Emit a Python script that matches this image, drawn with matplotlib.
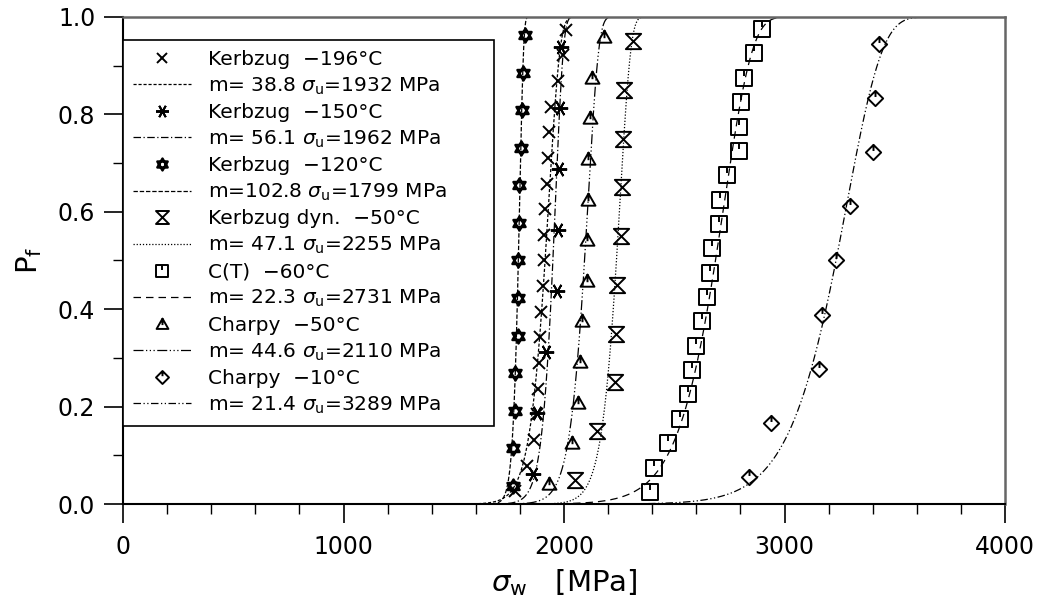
import matplotlib
matplotlib.use("Agg")
import matplotlib.pyplot as plt
import numpy as np
from matplotlib.lines import Line2D
from matplotlib.path import Path
from matplotlib.ticker import MultipleLocator, FormatStrFormatter

plt.rcParams["font.family"] = ["DejaVu Sans"]
plt.rcParams["mathtext.fontset"] = "dejavusans"

# fracture stresses [MPa] (sorted) and their failure probability ranks
kz196_sigma = [1778, 1831, 1865, 1876, 1883, 1887, 1891, 1896, 1903, 1908,
               1911, 1914, 1922, 1929, 1933, 1941, 1974, 1997, 2009]
kz196_pf = [0.026, 0.079, 0.132, 0.184, 0.237, 0.289, 0.342, 0.395, 0.447, 0.500,
            0.553, 0.605, 0.658, 0.711, 0.763, 0.816, 0.868, 0.921, 0.974]

kz150_sigma = [1858, 1876, 1917, 1967, 1974, 1979, 1982, 1985]
kz150_pf = [0.062, 0.188, 0.312, 0.438, 0.562, 0.688, 0.812, 0.938]

kz120_sigma = [1770, 1770, 1778, 1778, 1790, 1790, 1790, 1797, 1797, 1805,
               1808, 1815, 1823]
kz120_pf = [0.038, 0.115, 0.192, 0.269, 0.346, 0.423, 0.500, 0.577, 0.654, 0.731,
            0.808, 0.885, 0.962]

kzdyn_sigma = [2050, 2151, 2233, 2237, 2240, 2257, 2264, 2266, 2272, 2314]
kzdyn_pf = [0.05, 0.15, 0.25, 0.35, 0.45, 0.55, 0.65, 0.75, 0.85, 0.95]

ct_sigma = [2390, 2408, 2470, 2526, 2560, 2580, 2600, 2625, 2650, 2660,
            2673, 2704, 2707, 2738, 2791, 2795, 2803, 2814, 2862, 2897]
ct_pf = [0.025, 0.075, 0.125, 0.175, 0.225, 0.275, 0.325, 0.375, 0.425, 0.475,
         0.525, 0.575, 0.625, 0.675, 0.725, 0.775, 0.825, 0.875, 0.925, 0.975]

ch50_sigma = [1932, 2035, 2062, 2073, 2083, 2103, 2106, 2108, 2110, 2118,
              2125, 2181]
ch50_pf = [0.042, 0.125, 0.208, 0.292, 0.375, 0.458, 0.542, 0.625, 0.708, 0.792,
           0.875, 0.958]

ch10_sigma = [2840, 2939, 3156, 3171, 3232, 3297, 3400, 3410, 3426]
ch10_pf = [0.056, 0.167, 0.278, 0.389, 0.500, 0.611, 0.722, 0.833, 0.944]

# Weibull parameters of the fitted curves
weibull_m = [38.8, 56.1, 102.8, 47.1, 22.3, 44.6, 21.4]
weibull_su = [1932, 1962, 1799, 2255, 2731, 2110, 3289]

series_names = ["Kerbzug  \u2212196\u00b0C", "Kerbzug  \u2212150\u00b0C",
                "Kerbzug  \u2212120\u00b0C", "Kerbzug dyn.  \u221250\u00b0C",
                "C(T)  \u221260\u00b0C", "Charpy  \u221250\u00b0C",
                "Charpy  \u221210\u00b0C"]
fit_labels = ["m= 38.8", "m= 56.1", "m=102.8", "m= 47.1", "m= 22.3", "m= 44.6", "m= 21.4"]

M, L, C = Path.MOVETO, Path.LINETO, Path.CLOSEPOLY
square_tick = Path([(-1, -1), (1, -1), (1, 1), (-1, 1), (-1, -1), (0, 1), (0, 0.2)],
                   [M, L, L, L, C, M, L])
triangle_tick = Path([(-1, -0.75), (1, -0.75), (0, 1), (-1, -0.75), (0, 1), (0, -0.1)],
                     [M, L, L, C, M, L])
diamond_tick = Path([(0, -1), (1, 0), (0, 1), (-1, 0), (0, -1), (0, 1), (0, 0.2)],
                    [M, L, L, L, C, M, L])
hourglass = Path([(-1, 1), (1, 1), (-1, -1), (1, -1), (-1, 1)], [M, L, L, L, C])
hexagram = Path([(0, 1), (0.866, -0.5), (-0.866, -0.5), (0, 1),
                 (0, -1), (0.866, 0.5), (-0.866, 0.5), (0, -1)],
                [M, L, L, C, M, L, L, C])

markers = ["x", (6, 2, 90), hexagram, hourglass, square_tick, triangle_tick, diamond_tick]
msizes = [9, 11, 10, 11, 11, 10, 11]
mwidths = [1.4, 1.4, 1.8, 1.4, 1.4, 1.4, 1.4]
linestyles = [(0, (2.5, 1.5)), (0, (6, 2, 1, 2)), (0, (3.5, 1.5)), (0, (1, 1.5)),
              (0, (6, 4)), (0, (8, 2, 1, 2, 1, 2, 1, 2)), (0, (6, 2, 1, 2, 1, 2))]

sigmas = [kz196_sigma, kz150_sigma, kz120_sigma, kzdyn_sigma, ct_sigma, ch50_sigma, ch10_sigma]
pfs = [kz196_pf, kz150_pf, kz120_pf, kzdyn_pf, ct_pf, ch50_pf, ch10_pf]

fig = plt.figure(figsize=(10.47, 6.03), dpi=100)
ax = fig.add_axes([0.1175, 0.164, 0.8425, 0.808])

s = np.linspace(0, 4000, 4001)
handles, labels = [], []
for i in range(7):
    pf_fit = 1 - np.exp(-(s / weibull_su[i]) ** weibull_m[i])
    ax.plot(s, pf_fit, color="black", lw=0.9, linestyle=linestyles[i], zorder=2)
    ax.plot(sigmas[i], pfs[i], ls="none", marker=markers[i], ms=msizes[i],
            mec="black", mfc="none", mew=mwidths[i], zorder=3)
    handles.append(Line2D([], [], ls="none", marker=markers[i], ms=msizes[i] * 0.85,
                          mec="black", mfc="none", mew=mwidths[i]))
    labels.append(series_names[i])
    handles.append(Line2D([], [], color="black", lw=0.9, linestyle=linestyles[i]))
    labels.append(fit_labels[i] + r" $\sigma_\mathrm{u}$=" + f"{weibull_su[i]} MPa")

ax.set_xlim(0, 4000)
ax.set_ylim(0, 1)
ax.xaxis.set_major_locator(MultipleLocator(1000))
ax.xaxis.set_minor_locator(MultipleLocator(200))
ax.yaxis.set_major_locator(MultipleLocator(0.2))
ax.yaxis.set_minor_locator(MultipleLocator(0.1))
ax.yaxis.set_major_formatter(FormatStrFormatter("%.1f"))
ax.tick_params(which="major", direction="out", length=14, width=1.2, labelsize=17, pad=6)
ax.tick_params(which="minor", direction="out", length=7, width=1.0)
ax.tick_params(axis="x", which="major", pad=8)

for side in ["left", "bottom"]:
    ax.spines[side].set_linewidth(1.5)
    ax.spines[side].set_color("black")
for side in ["top", "right"]:
    ax.spines[side].set_linewidth(1.8)
    ax.spines[side].set_color("#666666")

ax.set_xlabel(r"$\sigma_\mathrm{w}$   [MPa]", fontsize=21, labelpad=6)
ax.set_ylabel(r"P$_\mathrm{f}$", fontsize=21, labelpad=10)

leg = ax.legend(handles, labels, loc="upper left", bbox_to_anchor=(0, 0, 0.42, 0.953),
                mode="expand", borderaxespad=0, fontsize=14.5, handlelength=2.9,
                handletextpad=0.8, labelspacing=0.32, borderpad=0.5, fancybox=False,
                framealpha=1, edgecolor="black")
leg.get_frame().set_linewidth(1.2)

fig.savefig("out.png", dpi=100)
